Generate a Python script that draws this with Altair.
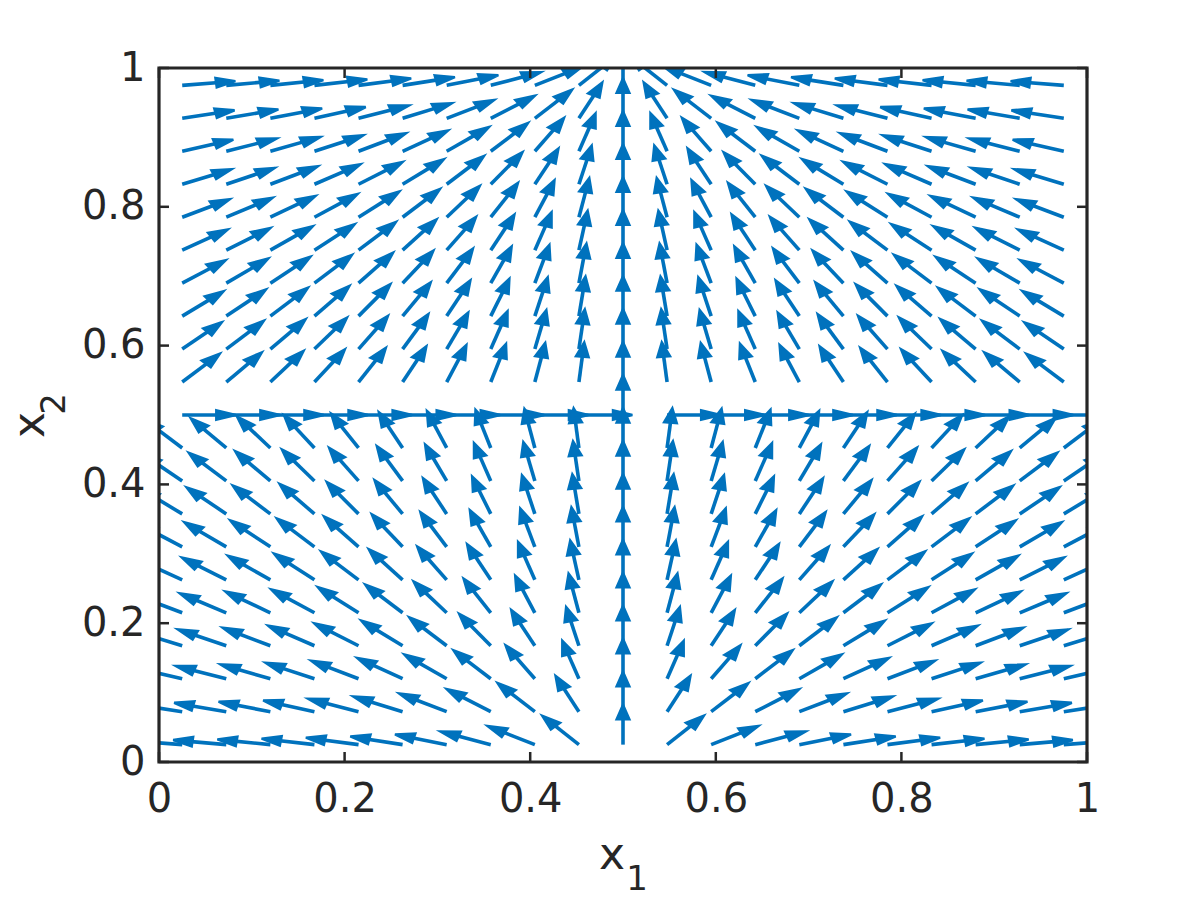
import math
import altair as alt
import pandas as pd

# ---- data ----
X1_GRID = [0.025, 0.0725, 0.12, 0.1675, 0.215, 0.2625, 0.31, 0.3575, 0.405, 0.4525,
           0.5, 0.5475, 0.595, 0.6425, 0.69, 0.7375, 0.785, 0.8325, 0.88, 0.9275, 0.975]
X2_GRID = [0.025, 0.0725, 0.12, 0.1675, 0.215, 0.2625, 0.31, 0.3575, 0.405, 0.4525,
           0.5, 0.5475, 0.595, 0.6425, 0.69, 0.7375, 0.785, 0.8325, 0.88, 0.9275, 0.975]
SINK = [0.5, 1.025]       # upper half flows toward this point
SOURCE = [0.5, -0.025]    # lower half flows away from this point
SWITCH_X2 = 0.5           # row where the flow is horizontal (to the right)
AXIS_X1 = 0.5             # column where the flow is vertical (upward)
TICKS = [0, 0.2, 0.4, 0.6, 0.8, 1]

# ---- style ----
W, H = 928, 694
ARROW_LEN = 0.0576
ALPHA, BETA = 0.33, 0.33
HEAD_SCALE = 1.1
BLUE = "#0072BD"
DARK = "#262626"
FONT = "DejaVu Sans"

rows = []
for x2 in X2_GRID:
    for x1 in X1_GRID:
        if abs(x1 - AXIS_X1) < 1e-9:
            u, v = 0.0, 1.0
        elif abs(x2 - SWITCH_X2) < 1e-9:
            u, v = 1.0, 0.0
        elif x2 > SWITCH_X2:
            u, v = SINK[0] - x1, SINK[1] - x2
        else:
            u, v = x1 - SOURCE[0], x2 - SOURCE[1]
        n = math.hypot(u, v)
        u, v = ARROW_LEN * u / n, ARROW_LEN * v / n
        tx, ty = x1 + u, x2 + v
        a = ALPHA * HEAD_SCALE
        b1 = (tx - a * (u + BETA * v), ty - a * (v - BETA * u))
        b2 = (tx - a * (u - BETA * v), ty - a * (v + BETA * u))
        p1 = ((b1[0] - tx) * W, -(b1[1] - ty) * H)
        p2 = ((b2[0] - tx) * W, -(b2[1] - ty) * H)
        path = f"M0,0L{p1[0]:.2f},{p1[1]:.2f}L{p2[0]:.2f},{p2[1]:.2f}Z"
        rows.append(dict(x=x1, y=x2, xe=tx - 0.5 * a * u, ye=ty - 0.5 * a * v,
                         tx=tx, ty=ty, path=path))
df = pd.DataFrame(rows)

xs = alt.Scale(domain=[0, 1], nice=False, zero=False)
ys = alt.Scale(domain=[0, 1], nice=False, zero=False)

axis_common = dict(values=TICKS, format="~g", ticks=False, tickSize=0, domain=False,
                   grid=False, labelFont=FONT, labelFontSize=40, labelColor=DARK,
                   labelFlush=False, labelOverlap=False, title=None)
XAX = alt.Axis(labelPadding=17, **axis_common)
YAX = alt.Axis(labelPadding=14, **axis_common)

shafts = alt.Chart(df).mark_rule(clip=True, color=BLUE, strokeWidth=3.6).encode(
    x=alt.X("x:Q", scale=xs, axis=XAX),
    y=alt.Y("y:Q", scale=ys, axis=YAX),
    x2="xe:Q",
    y2="ye:Q",
)

heads = alt.Chart(df).mark_point(clip=True, filled=True, fill=BLUE, stroke=BLUE,
                                 strokeWidth=2.4, strokeJoin="miter", opacity=1,
                                 size=4).encode(
    x=alt.X("tx:Q", scale=xs, axis=XAX),
    y=alt.Y("ty:Q", scale=ys, axis=YAX),
    shape=alt.Shape("path:N", scale=None, legend=None),
)

tick_df = pd.DataFrame({"t": TICKS})
TL = 10
tick_b = alt.Chart(tick_df).mark_rule(color=DARK, strokeWidth=2.5).encode(
    x=alt.X("t:Q", scale=xs, axis=XAX), y=alt.value(H), y2=alt.value(H - TL))
tick_t = alt.Chart(tick_df).mark_rule(color=DARK, strokeWidth=2.5).encode(
    x=alt.X("t:Q", scale=xs, axis=XAX), y=alt.value(0), y2=alt.value(TL))
tick_l = alt.Chart(tick_df).mark_rule(color=DARK, strokeWidth=2.5).encode(
    y=alt.Y("t:Q", scale=ys, axis=YAX), x=alt.value(0), x2=alt.value(TL))
tick_r = alt.Chart(tick_df).mark_rule(color=DARK, strokeWidth=2.5).encode(
    y=alt.Y("t:Q", scale=ys, axis=YAX), x=alt.value(W), x2=alt.value(W - TL))

one = pd.DataFrame({"a": [0]})
frame = alt.Chart(one).mark_rect(filled=False, stroke=DARK, strokeWidth=3.2).encode(
    x=alt.value(0), x2=alt.value(W), y=alt.value(0), y2=alt.value(H))

def label(text, px, py, size, angle=0):
    return alt.Chart(one).mark_text(text=text, font=FONT, fontSize=size, color=DARK,
                                    align="center", baseline="alphabetic",
                                    angle=angle).encode(x=alt.value(px), y=alt.value(py))

xlab = label("x", 453, 801, 44)
xsub = label("1", 478, 822, 34)
ylab = label("x", -115, 357, 44, angle=270)
ysub = label("2", -94, 336, 34, angle=270)

chart = alt.layer(shafts, heads, tick_b, tick_t, tick_l, tick_r, frame,
                  xlab, xsub, ylab, ysub).properties(
    width=W, height=H,
    padding={"left": 151, "top": 60, "right": 100, "bottom": 130},
    autosize=alt.AutoSizeParams(type="none"),
).configure_view(stroke=None)

chart.save("out.html", embed_options={"renderer": "svg", "actions": False})
